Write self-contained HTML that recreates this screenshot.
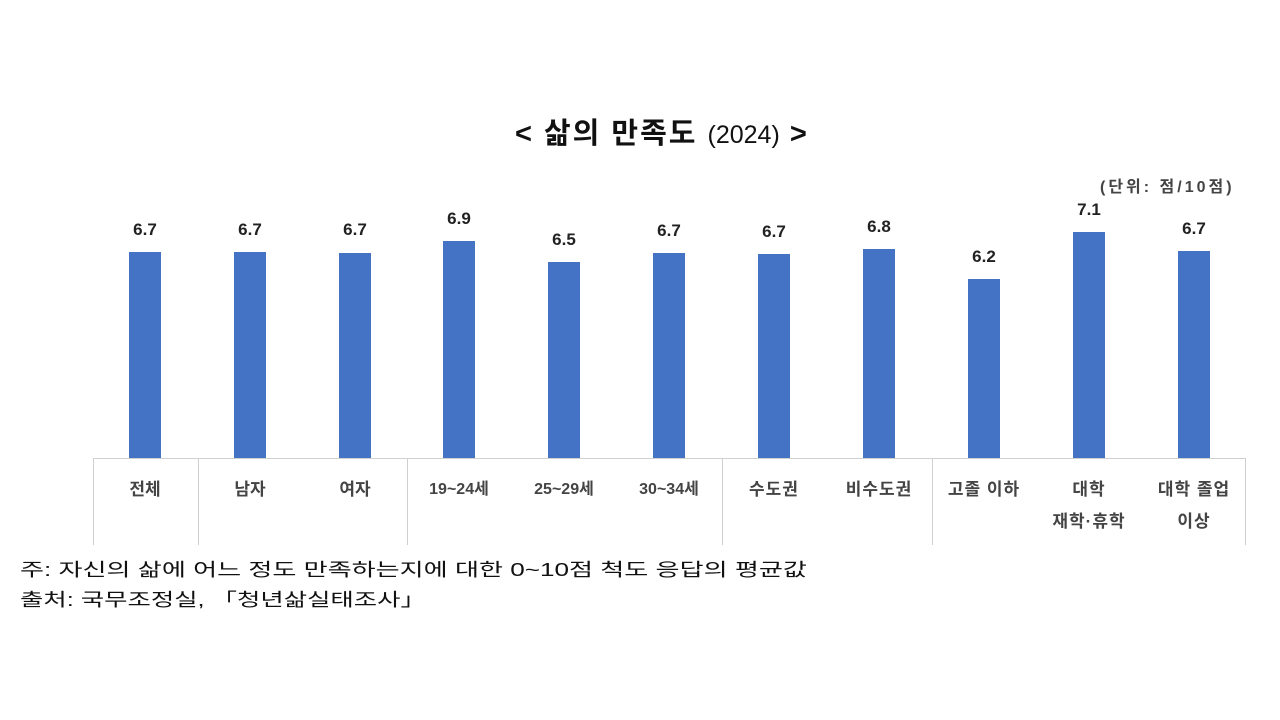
<!DOCTYPE html>
<html><head><meta charset="utf-8"><style>
body{margin:0;width:1280px;height:720px;background:#fff;position:relative;overflow:hidden;font-family:"Liberation Sans","Noto Sans CJK KR",sans-serif;}
.a{position:absolute;white-space:nowrap;}
.bar{position:absolute;width:32px;background:#4472c4;bottom:262px;}
.v{position:absolute;width:80px;text-align:center;font-weight:bold;font-size:17px;color:#222;}
.c{position:absolute;width:104px;text-align:center;font-size:17px;font-weight:bold;color:#444;line-height:32px;}
.vl{position:absolute;top:458px;width:1px;height:87px;background:#d0d0d0;}
</style></head><body>
<div class="a" style="left:515px;top:110px;font-size:29px;font-weight:bold;color:#111;letter-spacing:2px;">&lt; 삶의 만족도 <span style="font-weight:normal;font-size:25px;letter-spacing:0">(2024)</span> &gt;</div>
<div class="a" style="left:1100px;top:173px;font-size:16px;font-weight:bold;color:#444;letter-spacing:3px;">(단위: 점/10점)</div>
<div style="position:absolute;left:93px;top:458px;width:1152px;height:1px;background:#d0d0d0"></div>
<div class="vl" style="left:93px"></div><div class="vl" style="left:198px"></div><div class="vl" style="left:407px"></div><div class="vl" style="left:722px"></div><div class="vl" style="left:932px"></div><div class="vl" style="left:1245px"></div>
<div class="bar" style="left:129px;top:252px"></div><div class="v" style="left:105px;top:220px">6.7</div>
<div class="bar" style="left:234px;top:252px"></div><div class="v" style="left:210px;top:220px">6.7</div>
<div class="bar" style="left:339px;top:253px"></div><div class="v" style="left:315px;top:220px">6.7</div>
<div class="bar" style="left:443px;top:241px"></div><div class="v" style="left:419px;top:209px">6.9</div>
<div class="bar" style="left:548px;top:262px"></div><div class="v" style="left:524px;top:230px">6.5</div>
<div class="bar" style="left:653px;top:253px"></div><div class="v" style="left:629px;top:221px">6.7</div>
<div class="bar" style="left:758px;top:254px"></div><div class="v" style="left:734px;top:222px">6.7</div>
<div class="bar" style="left:863px;top:249px"></div><div class="v" style="left:839px;top:217px">6.8</div>
<div class="bar" style="left:968px;top:279px"></div><div class="v" style="left:944px;top:247px">6.2</div>
<div class="bar" style="left:1073px;top:232px"></div><div class="v" style="left:1049px;top:200px">7.1</div>
<div class="bar" style="left:1178px;top:251px"></div><div class="v" style="left:1154px;top:219px">6.7</div>
<div class="c" style="left:93px;top:474px">전체</div>
<div class="c" style="left:198px;top:474px">남자</div>
<div class="c" style="left:303px;top:474px">여자</div>
<div class="c" style="left:407px;top:474px;font-size:16px">19~24세</div>
<div class="c" style="left:512px;top:474px;font-size:16px">25~29세</div>
<div class="c" style="left:617px;top:474px;font-size:16px">30~34세</div>
<div class="c" style="left:722px;top:474px;letter-spacing:1px">수도권</div>
<div class="c" style="left:827px;top:474px;letter-spacing:1px">비수도권</div>
<div class="c" style="left:932px;top:474px;letter-spacing:1px">고졸 이하</div>
<div class="c" style="left:1037px;top:474px;letter-spacing:1px">대학<br>재학·휴학</div>
<div class="c" style="left:1142px;top:474px;letter-spacing:1px">대학 졸업<br>이상</div>
<div class="a" style="left:20px;top:556px;font-size:18px;color:#111;transform:scaleX(1.45);transform-origin:0 0;">주: 자신의 삶에 어느 정도 만족하는지에 대한 0~10점 척도 응답의 평균값</div>
<div class="a" style="left:20px;top:586px;font-size:18px;color:#111;transform:scaleX(1.41);transform-origin:0 0;">출처: 국무조정실, 「청년삶실태조사」</div>
</body></html>
